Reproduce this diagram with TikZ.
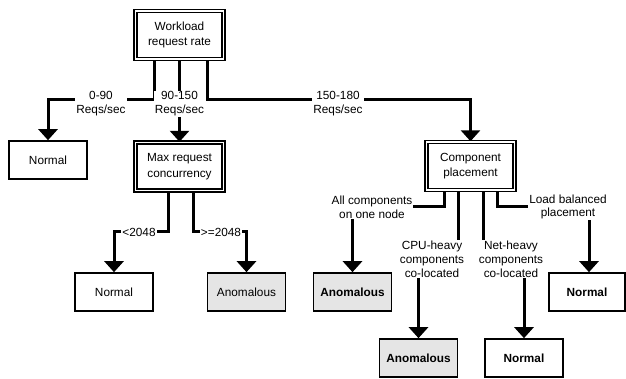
\documentclass[tikz,border=0pt]{standalone}
\usepackage{fontspec}
\setmainfont{Liberation Sans}
\usetikzlibrary{arrows.meta,backgrounds}
\begin{document}
\begin{tikzpicture}[x=1pt,y=-1pt,
  every node/.style={font=\fontsize{11.8}{15.5}\selectfont,align=center},
  dec/.style={draw,double,line width=1.4pt,double distance=1.8pt,fill=white,minimum width=88pt,minimum height=48pt,inner sep=0pt},
  leaf/.style={draw,line width=1.6pt,fill=white,minimum width=78pt,minimum height=38pt,inner sep=0pt},
  bad/.style={leaf,fill=black!10},
  cond/.style={fill=white,inner sep=1pt,font=\fontsize{11.8}{13.8}\selectfont},
  link/.style={line width=3pt,-{Triangle[width=19pt,length=11pt]}}]
\useasboundingbox (0,0) rectangle (626,379);
% decision boxes
\node[dec] (rate) at (179.5,35) {Workload\\request rate};
\node[dec] (maxc) at (179.5,166.5) {Max request\\concurrency};
\node[dec] (comp) at (470.5,166) {Component\\placement};
% outcomes
\node[leaf] (n1) at (48,160) {Normal};
\node[leaf] (n2) at (114,292) {Normal};
\node[bad] (a2) at (246.5,292) {Anomalous};
\node[bad] (a3) at (352.5,292) {\textbf{Anomalous}};
\node[leaf,minimum width=76pt] (n4) at (587,292) {\textbf{Normal}};
\node[bad] (a5) at (418.5,358) {\textbf{Anomalous}};
\node[leaf] (n5) at (524,358) {\textbf{Normal}};
% branch labels
\node[cond] (c1) at (101,104) {0-90\\Reqs/sec};
\node[cond] (c2) at (179.5,104) {90-150\\Reqs/sec};
\node[cond] (c3) at (338,104) {150-180\\Reqs/sec};
\node[cond] (c4) at (139,232) {<2048};
\node[cond] (c5) at (221,232) {>=2048};
\node[cond] (c6) at (372,207) {All components\\on one node};
\node[cond] (c7) at (432,259) {CPU-heavy\\components\\co-located};
\node[cond] (c8) at (511,259) {Net-heavy\\components\\co-located};
\node[cond] (c9) at (568,207) {Load balanced\\placement};
\begin{scope}[on background layer]
\draw[link] ([xshift=-25.5pt]rate.south) |- ([yshift=4pt]c1.center) -| (n1.north);
\draw[link] (rate) -- (maxc);
\draw[link] ([xshift=27.5pt]rate.south) |- ([yshift=4pt]c3.center) -| (comp.north);
\draw[link] ([xshift=-11.5pt]maxc.south) |- (c4.center) -| (n2.north);
\draw[link] ([xshift=13.5pt]maxc.south) |- (c5.center) -| (a2.north);
\draw[link] ([xshift=-26.5pt]comp.south) |- (c6.center) -| (a3.north);
\draw[link] ([xshift=-12.5pt]comp.south) |- (c7.center) -| (a5.north);
\draw[link] ([xshift=12.5pt]comp.south) |- (c8.center) -| (n5.north);
\draw[link] ([xshift=26.5pt]comp.south) |- (c9.center) -| ([xshift=2pt]n4.north);
\end{scope}
\end{tikzpicture}
\end{document}
